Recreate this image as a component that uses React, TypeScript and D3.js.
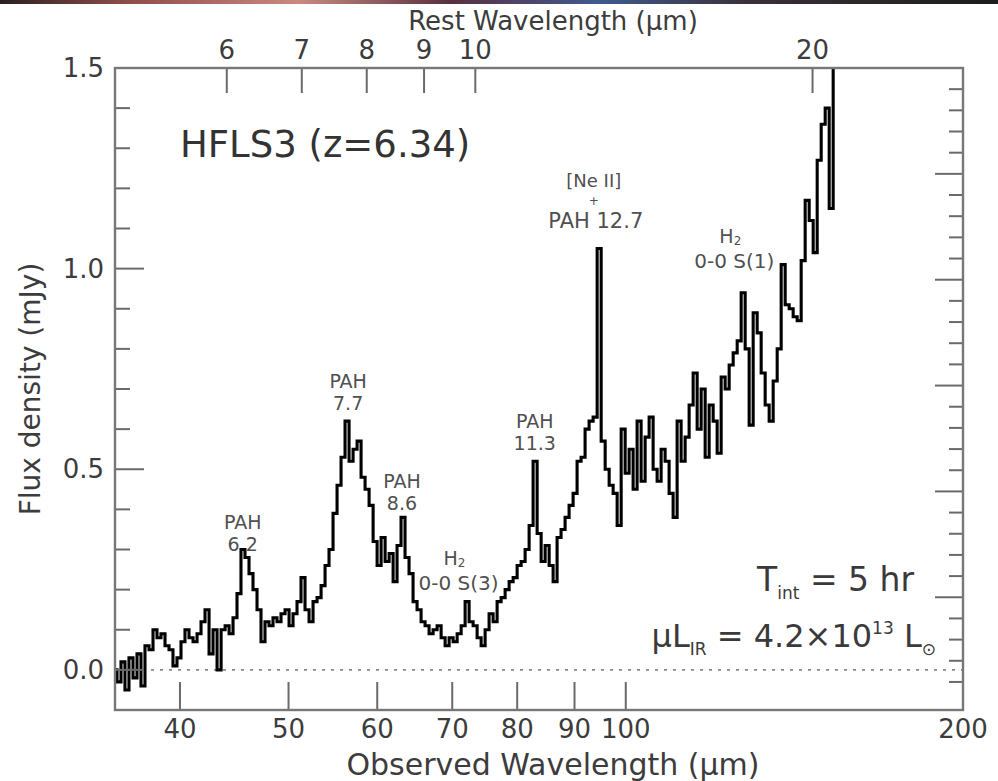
import React from 'react';
import * as d3 from 'd3';

const REDSHIFT = 6.34;

// observed wavelength (μm) of each spectral bin
const wavelength = [
  35.0, 35.29, 35.58, 35.87, 36.17, 36.47, 36.77, 37.07, 37.38, 37.69,
  38.0, 38.31, 38.63, 38.95, 39.27, 39.59, 39.92, 40.25, 40.58, 40.92,
  41.26, 41.6, 41.94, 42.29, 42.64, 42.99, 43.35, 43.71, 44.07, 44.43,
  44.79, 45.16, 45.53, 45.91, 46.29, 46.67, 47.06, 47.44, 47.84, 48.23,
  48.63, 49.03, 49.44, 49.85, 50.26, 50.67, 51.09, 51.51, 51.94, 52.37,
  52.8, 53.24, 53.68, 54.12, 54.56, 55.02, 55.47, 55.93, 56.39, 56.86,
  57.33, 57.8, 58.28, 58.76, 59.25, 59.74, 60.23, 60.73, 61.23, 61.74,
  62.24, 62.75, 63.27, 63.79, 64.32, 64.85, 65.39, 65.93, 66.47, 67.02,
  67.58, 68.14, 68.7, 69.27, 69.84, 70.42, 71.0, 71.59, 72.17, 72.77,
  73.37, 73.98, 74.59, 75.2, 75.82, 76.45, 77.08, 77.72, 78.36, 79.01,
  79.66, 80.32, 80.98, 81.65, 82.32, 83.0, 83.69, 84.38, 85.08, 85.78,
  86.48, 87.19, 87.91, 88.64, 89.37, 90.11, 90.85, 91.6, 92.36, 93.12,
  93.9, 94.68, 95.46, 96.25, 97.04, 97.84, 98.65, 99.47, 100.28, 101.11,
  101.94, 102.78, 103.63, 104.49, 105.35, 106.22, 107.1, 107.98, 108.87, 109.77,
  110.68, 111.59, 112.51, 113.44, 114.38, 115.33, 116.28, 117.24, 118.21, 119.18,
  120.17, 121.16, 122.16, 123.17, 124.19, 125.22, 126.25, 127.29, 128.34, 129.4,
  130.47, 131.55, 132.63, 133.73, 134.83, 135.95, 137.07, 138.2, 139.34, 140.49,
  141.65, 142.82, 144.0, 145.19, 146.39, 147.6, 148.82, 150.05, 151.29, 152.53, 153.79,
];

// flux density (mJy) in each bin
const flux = [
  0.0, -0.03, 0.02, -0.05, 0.03, -0.02, 0.04, -0.04, 0.06, 0.05,
  0.1, 0.08, 0.09, 0.06, 0.05, 0.01, 0.03, 0.07, 0.1, 0.08,
  0.07, 0.09, 0.12, 0.15, 0.04, 0.1, 0.0, 0.1, 0.11, 0.09,
  0.13, 0.19, 0.3, 0.28, 0.24, 0.2, 0.15, 0.07, 0.12, 0.11,
  0.13, 0.12, 0.14, 0.15, 0.11, 0.14, 0.17, 0.23, 0.15, 0.12,
  0.17, 0.18, 0.21, 0.26, 0.3, 0.39, 0.46, 0.53, 0.62, 0.52,
  0.55, 0.57, 0.48, 0.45, 0.41, 0.32, 0.26, 0.33, 0.27, 0.29,
  0.22, 0.31, 0.38, 0.28, 0.24, 0.17, 0.15, 0.12, 0.11, 0.09,
  0.1, 0.11, 0.08, 0.06, 0.08, 0.07, 0.09, 0.11, 0.17, 0.12,
  0.11, 0.08, 0.06, 0.1, 0.14, 0.12, 0.17, 0.18, 0.2, 0.22,
  0.23, 0.26, 0.27, 0.3, 0.36, 0.52, 0.34, 0.27, 0.31, 0.26,
  0.22, 0.33, 0.35, 0.38, 0.41, 0.44, 0.52, 0.53, 0.6, 0.62,
  0.63, 1.05, 0.57, 0.5, 0.46, 0.44, 0.36, 0.6, 0.49, 0.55,
  0.45, 0.62, 0.47, 0.58, 0.63, 0.5, 0.47, 0.55, 0.52, 0.44,
  0.38, 0.62, 0.52, 0.58, 0.66, 0.74, 0.6, 0.7, 0.53, 0.66,
  0.62, 0.54, 0.73, 0.7, 0.76, 0.79, 0.82, 0.94, 0.8, 0.61,
  0.89, 0.84, 0.74, 0.66, 0.62, 0.72, 0.8, 1.01, 0.91, 0.9,
  0.88, 0.87, 1.02, 1.17, 1.12, 1.04, 1.27, 1.36, 1.4, 1.15, 1.55,
];

const observedTicks = [40, 50, 60, 70, 80, 90, 100, 200];
const restTicks = [6, 7, 8, 9, 10, 20];
const fluxTickLabels = ['0.0', '0.5', '1.0', '1.5'];
const fluxTickValues = [0, 0.5, 1.0, 1.5];

// line annotations: rest wavelength of the feature, flux of the last line's baseline
const annRest = [6.2, 7.7, 8.6, 9.66, 11.3, 12.81, 17.03];
const annFlux = [0.297, 0.648, 0.399, 0.199, 0.548, 1.101, 1.002];
const annLines = [
  ['PAH', '6.2'],
  ['PAH', '7.7'],
  ['PAH', '8.6'],
  ['H2', '0-0 S(3)'],
  ['PAH', '11.3'],
  ['[Ne II]', '+', 'PAH 12.7'],
  ['H2', '0-0 S(1)'],
];

const W = 998;
const H = 781;
const L = 115, R = 963, T = 68, B = 710;
const FONT = '"DejaVu Sans", Verdana, sans-serif';

export default function App() {
  const x = d3.scaleLog().domain([35, 200]).range([L, R]);
  const y = d3.scaleLinear().domain([-0.1, 1.5]).range([B, T]);
  const yRight = d3.scaleLinear().domain([-0.065, 6.0]).range([B, T]);

  const pts: [number, number][] = wavelength.map((w, i) => [w, flux[i]]);
  const path = d3
    .line<[number, number]>()
    .x((d) => x(d[0]))
    .y((d) => y(d[1]))
    .curve(d3.curveStep)(pts) as string;

  const leftMinor = d3.range(0, 16).map((i) => i * 0.1);
  const rightMinor = d3.range(1, 30).map((i) => i * 0.2);
  const tickColor = '#6a6a6a';
  const textColor = '#3c3c3c';

  const renderAnn = (i: number) => {
    const cx = x(annRest[i] * (1 + REDSHIFT));
    const by = y(annFlux[i]);
    const lines = annLines[i];
    const out: any[] = [];
    if (lines.length === 3) {
      out.push(
        <text key="a" x={cx - 2} y={by - 41} textAnchor="middle" fontSize={18}>{lines[0]}</text>,
        <text key="b" x={cx - 2} y={by - 23} textAnchor="middle" fontSize={12}>{lines[1]}</text>,
        <text key="c" x={cx} y={by} textAnchor="middle" fontSize={21}>{lines[2]}</text>
      );
    } else if (lines[0] === 'H2') {
      out.push(
        <text key="a" x={cx - 4} y={by - 25} textAnchor="middle" fontSize={19}>
          H<tspan fontSize={12} dy={2}>2</tspan>
        </text>,
        <text key="b" x={cx} y={by} textAnchor="middle" fontSize={20}>{lines[1]}</text>
      );
    } else {
      out.push(
        <text key="a" x={cx} y={by - 22} textAnchor="middle" fontSize={19}>{lines[0]}</text>,
        <text key="b" x={cx} y={by} textAnchor="middle" fontSize={19}>{lines[1]}</text>
      );
    }
    return <g key={i}>{out}</g>;
  };

  return (
    <svg
      width={W}
      height={H}
      viewBox={`0 0 ${W} ${H}`}
      style={{ position: 'absolute', left: 0, top: 0, background: '#fff' }}
      fontFamily={FONT}
    >
      <defs>
        <linearGradient id="strip" x1="0" x2="1" y1="0" y2="0">
          <stop offset="0" stopColor="#2a2020" />
          <stop offset="0.12" stopColor="#8a4a48" />
          <stop offset="0.3" stopColor="#c98a80" />
          <stop offset="0.45" stopColor="#5a3040" />
          <stop offset="0.6" stopColor="#405a90" />
          <stop offset="0.75" stopColor="#3a3038" />
          <stop offset="1" stopColor="#1c1c1c" />
        </linearGradient>
        <clipPath id="plotclip">
          <rect x={L} y={T} width={R - L} height={B - T} />
        </clipPath>
      </defs>
      <rect x={0} y={0} width={W} height={H} fill="#fff" />
      <rect x={0} y={0} width={W} height={4} fill="url(#strip)" />

      {/* zero line */}
      <line x1={L} x2={R} y1={y(0)} y2={y(0)} stroke="#8a8a8a" strokeWidth={1.6} strokeDasharray="3 6" />

      {/* annotations */}
      <g fill="#505050" fontFamily={FONT}>{annRest.map((_, i) => renderAnn(i))}</g>

      {/* headline texts */}
      <text x={180} y={157} fontSize={37} fill="#333">HFLS3 (z=6.34)</text>
      <text x={914} y={591} fontSize={33} fill="#3a3a3a" textAnchor="end">
        T<tspan fontSize={17} dy={8}>int</tspan>
        <tspan dy={-8}> = 5 hr</tspan>
      </text>
      <text x={936} y={647} fontSize={32} fill="#3a3a3a" textAnchor="end">
        μL<tspan fontSize={17} dy={8}>IR</tspan>
        <tspan dy={-8}> = 4.2×10</tspan>
        <tspan fontSize={17} dy={-13}>13</tspan>
        <tspan dy={13}> L</tspan>
        <tspan fontSize={17} dy={8}>⊙</tspan>
      </text>

      {/* spectrum */}
      <g clipPath="url(#plotclip)">
        <path d={path} fill="none" stroke="#000" strokeWidth={3.1} strokeLinejoin="miter" />
      </g>

      {/* ticks */}
      <g stroke={tickColor} strokeWidth={2}>
        {leftMinor.map((v, i) => (
          <line key={'l' + i} x1={L} x2={L + (i % 5 === 0 ? 29 : 15)} y1={y(v)} y2={y(v)} />
        ))}
        {rightMinor.map((v, i) => (
          <line key={'r' + i} x1={R} x2={R - ((i + 1) % 5 === 0 ? 28 : 14)} y1={yRight(v)} y2={yRight(v)} />
        ))}
        {observedTicks.map((v) => (
          <line key={'b' + v} x1={x(v)} x2={x(v)} y1={B} y2={B - 28} />
        ))}
        {restTicks.map((v) => (
          <line key={'t' + v} x1={x(v * (1 + REDSHIFT))} x2={x(v * (1 + REDSHIFT))} y1={T} y2={T + 25} />
        ))}
      </g>

      {/* frame */}
      <rect x={L} y={T} width={R - L} height={B - T} fill="none" stroke="#777" strokeWidth={2.4} />

      {/* tick labels */}
      <g fill={textColor} fontSize={26}>
        {observedTicks.map((v) => (
          <text key={'bl' + v} x={x(v)} y={738} textAnchor="middle">{v}</text>
        ))}
        {restTicks.map((v) => (
          <text key={'tl' + v} x={x(v * (1 + REDSHIFT))} y={59} textAnchor="middle">{v}</text>
        ))}
        {fluxTickValues.map((v, i) => (
          <text key={'yl' + i} x={104} y={y(v) + 9} textAnchor="end">{fluxTickLabels[i]}</text>
        ))}
      </g>

      {/* axis titles */}
      <text x={553} y={775} fontSize={30} fill={textColor} textAnchor="middle">Observed Wavelength (μm)</text>
      <text x={553} y={30} fontSize={26} fill={textColor} textAnchor="middle">Rest Wavelength (μm)</text>
      <text
        transform={`translate(40, ${(T + B) / 2}) rotate(-90)`}
        fontSize={28}
        fill={textColor}
        textAnchor="middle"
      >
        Flux density (mJy)
      </text>
    </svg>
  );
}
